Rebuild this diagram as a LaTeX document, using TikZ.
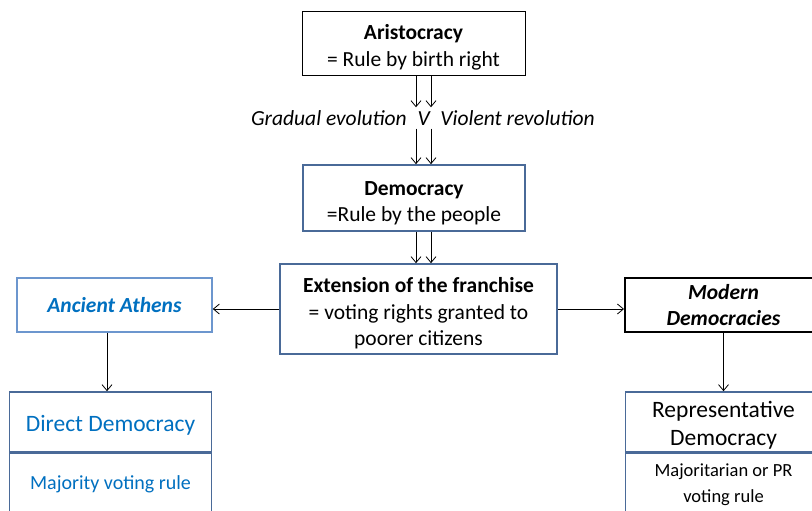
\documentclass[tikz,border=0pt]{standalone}
\usepackage{fontspec}
\setmainfont{Carlito}
\usepackage{xcolor}
\usetikzlibrary{arrows.meta, positioning}

\definecolor{frame}{HTML}{4A6A98}
\definecolor{lightframe}{HTML}{6C96CE}
\definecolor{textblue}{HTML}{0070C0}

\newcommand{\topgap}{\rule{0pt}{24pt}}

\begin{document}
\begin{tikzpicture}[
        x=1pt, y=-1pt,
        box/.style={rectangle, draw=frame, line width=1.6pt, align=center, fill=white, inner sep=0pt},
        arrow/.style={-{Straight Barb[length=6pt, width=10pt]}, line width=0.8pt},
        big/.style={font=\fontsize{21.5}{26.5}\selectfont},
        bigger/.style={font=\fontsize{23.5}{28}\selectfont},
        small/.style={font=\fontsize{20}{26}\selectfont}
    ]
    \useasboundingbox (0,0) rectangle (812,511);

    % Nodes
    \node[box, draw=black, line width=0.8pt, minimum width=223pt, minimum height=64pt, big] (aristo) at (413.5,43) {\topgap\textbf{Aristocracy}\\= Rule by birth right};
    \node[big, inner sep=3pt] (means) at (423,118) {\textit{Gradual evolution\enspace V\enspace Violent revolution}};
    \node[box, minimum width=222pt, minimum height=66pt, big] (demo) at (414,198) {\topgap\textbf{Democracy}\\=Rule by the people};
    \node[box, minimum width=277pt, minimum height=90pt, big] (ext) at (418.5,309) {\topgap\textbf{Extension of the franchise}\\= voting rights granted to\\poorer citizens};
    \node[box, draw=lightframe, minimum width=195pt, minimum height=54pt, big, text=textblue] (athens) at (114.5,305) {\textbf{\textit{Ancient Athens}}};
    \node[box, draw=black, line width=2pt, minimum width=197pt, minimum height=54pt, big] (modern) at (723.5,305) {\textbf{\textit{Modern}}\\\textbf{\textit{Democracies}}};

    % Split boxes
    \node[box, minimum width=202pt, minimum height=60pt, bigger, text=textblue] (direct) at (110.5,422) {\rule{0pt}{23pt}Direct Democracy};
    \node[box, minimum width=202pt, minimum height=62pt, small, text=textblue, below=0pt of direct] (majority) {Majority voting rule};
    \node[box, minimum width=196pt, minimum height=60pt, bigger] (repr) at (723.5,422) {\rule{0pt}{23pt}Representative\\Democracy};
    \node[box, minimum width=196pt, minimum height=62pt, font=\fontsize{18.5}{26}\selectfont, below=0pt of repr] (prrule) {Majoritarian or PR\\voting rule};

    % Arrow columns
    \coordinate (l) at (416,0);
    \coordinate (r) at (431,0);

    % Arrows
    \draw[arrow] (aristo.south -| l) -- (means.north -| l);
    \draw[arrow] (aristo.south -| r) -- (means.north -| r);
    \draw[arrow] (means.south -| l) -- (demo.north -| l);
    \draw[arrow] (means.south -| r) -- (demo.north -| r);
    \draw[arrow] (demo.south -| l) -- (ext.north -| l);
    \draw[arrow] (demo.south -| r) -- (ext.north -| r);

    \draw[arrow] (ext.west) -- (ext.west -| athens.east);
    \draw[arrow] (ext.east) -- (ext.east -| modern.west);
    \draw[arrow] (athens.south -| 107,0) -- (direct.north -| 107,0);
    \draw[arrow] (modern.south) -- (repr.north);

\end{tikzpicture}
\end{document}
